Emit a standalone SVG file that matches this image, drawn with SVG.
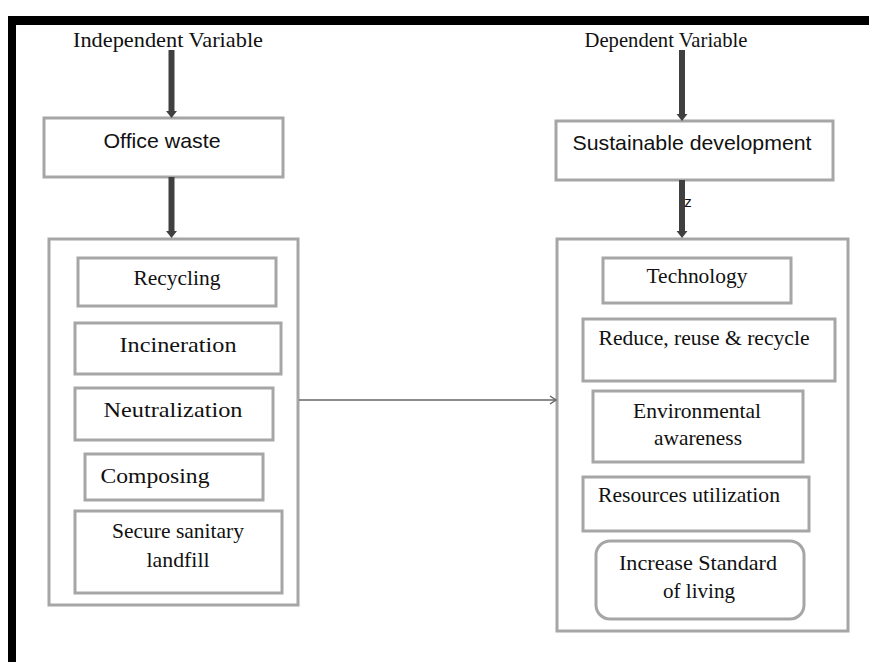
<svg xmlns="http://www.w3.org/2000/svg" width="869" height="662" viewBox="0 0 869 662">
<style>
.bx{fill:#fff;stroke:#a6a6a6;stroke-width:3}
.t{font-family:"Liberation Serif","Times New Roman",serif;font-size:21px;fill:#111;text-anchor:middle}
.s{font-family:"Liberation Sans",Arial,sans-serif;font-size:21px;fill:#111;text-anchor:middle}
.thick{stroke:#404040;stroke-width:6;fill:none}
.thin{stroke:#666;stroke-width:1.5;fill:none}
</style>
<defs>
<marker id="ah" markerWidth="10" markerHeight="10" refX="8" refY="5" orient="auto" markerUnits="userSpaceOnUse">
<path d="M2,1 L8,5 L2,9" fill="none" stroke="#666" stroke-width="1.5"/>
</marker>
</defs>
<rect width="869" height="662" fill="#fff"/>
<rect x="8" y="16" width="861" height="9" fill="#000"/>
<rect x="8" y="16" width="8" height="646" fill="#000"/>

<g id="indep-label"><text class="t" x="168" y="47" textLength="190" lengthAdjust="spacingAndGlyphs">Independent Variable</text></g>
<g id="dep-label"><text class="t" x="666" y="47" textLength="163" lengthAdjust="spacingAndGlyphs">Dependent Variable</text></g>

<g id="office-waste"><rect class="bx" x="44" y="118" width="239" height="59"/><text class="s" x="162" y="148" textLength="117" lengthAdjust="spacingAndGlyphs">Office waste</text></g>
<g id="sustainable-development"><rect class="bx" x="556" y="121" width="277" height="59"/><text class="s" x="692" y="150" textLength="239" lengthAdjust="spacingAndGlyphs">Sustainable development</text></g>

<g id="left-group"><rect class="bx" x="49" y="239" width="249" height="366"/></g>
<g id="recycling"><rect class="bx" x="78" y="258" width="198" height="48"/><text class="t" x="177" y="285" textLength="87" lengthAdjust="spacingAndGlyphs">Recycling</text></g>
<g id="incineration"><rect class="bx" x="75" y="323" width="206" height="51"/><text class="t" x="178" y="352" textLength="117" lengthAdjust="spacingAndGlyphs">Incineration</text></g>
<g id="neutralization"><rect class="bx" x="75" y="388" width="198" height="52"/><text class="t" x="173" y="417" textLength="139" lengthAdjust="spacingAndGlyphs">Neutralization</text></g>
<g id="composing"><rect class="bx" x="85" y="454" width="178" height="46"/><text class="t" x="155" y="483" textLength="109" lengthAdjust="spacingAndGlyphs">Composing</text></g>
<g id="landfill"><rect class="bx" x="75" y="511" width="207" height="82"/><text class="t" x="178" y="538" textLength="132" lengthAdjust="spacingAndGlyphs">Secure sanitary</text><text class="t" x="178" y="567" textLength="63" lengthAdjust="spacingAndGlyphs">landfill</text></g>

<g id="right-group"><rect class="bx" x="557" y="239" width="291" height="392"/></g>
<g id="technology"><rect class="bx" x="603" y="258" width="188" height="45"/><text class="t" x="697" y="283" textLength="101" lengthAdjust="spacingAndGlyphs">Technology</text></g>
<g id="reduce"><rect class="bx" x="583" y="319" width="252" height="62"/><text class="t" x="704" y="345" textLength="211" lengthAdjust="spacingAndGlyphs">Reduce, reuse &amp; recycle</text></g>
<g id="awareness"><rect class="bx" x="593" y="391" width="210" height="71"/><text class="t" x="697" y="418" textLength="128" lengthAdjust="spacingAndGlyphs">Environmental</text><text class="t" x="698" y="445" textLength="88" lengthAdjust="spacingAndGlyphs">awareness</text></g>
<g id="resources"><rect class="bx" x="583" y="477" width="226" height="54"/><text class="t" x="689" y="502" textLength="182" lengthAdjust="spacingAndGlyphs">Resources utilization</text></g>
<g id="standard"><rect class="bx" x="596" y="541" width="208" height="78" rx="14" ry="14"/><text class="t" x="698" y="570" textLength="158" lengthAdjust="spacingAndGlyphs">Increase Standard</text><text class="t" x="699" y="598" textLength="72" lengthAdjust="spacingAndGlyphs">of living</text></g>

<g id="connectors">
<line class="thick" x1="171.5" y1="50" x2="171.5" y2="112"/><polygon points="166,111 177,111 171.5,118" fill="#404040"/>
<line class="thick" x1="171.5" y1="177" x2="171.5" y2="232"/><polygon points="166,231 177,231 171.5,238" fill="#404040"/>
<line class="thick" x1="682" y1="50" x2="682" y2="115"/><polygon points="676.5,114 687.5,114 682,121" fill="#404040"/>
<line class="thick" x1="682" y1="180" x2="682" y2="232"/><polygon points="676.5,231 687.5,231 682,238" fill="#404040"/>
<text x="688" y="207" font-family="Liberation Sans,Arial,sans-serif" font-size="15" fill="#111" text-anchor="middle">z</text>
<line class="thin" x1="299" y1="400" x2="556" y2="400" marker-end="url(#ah)"/>
</g>
</svg>
